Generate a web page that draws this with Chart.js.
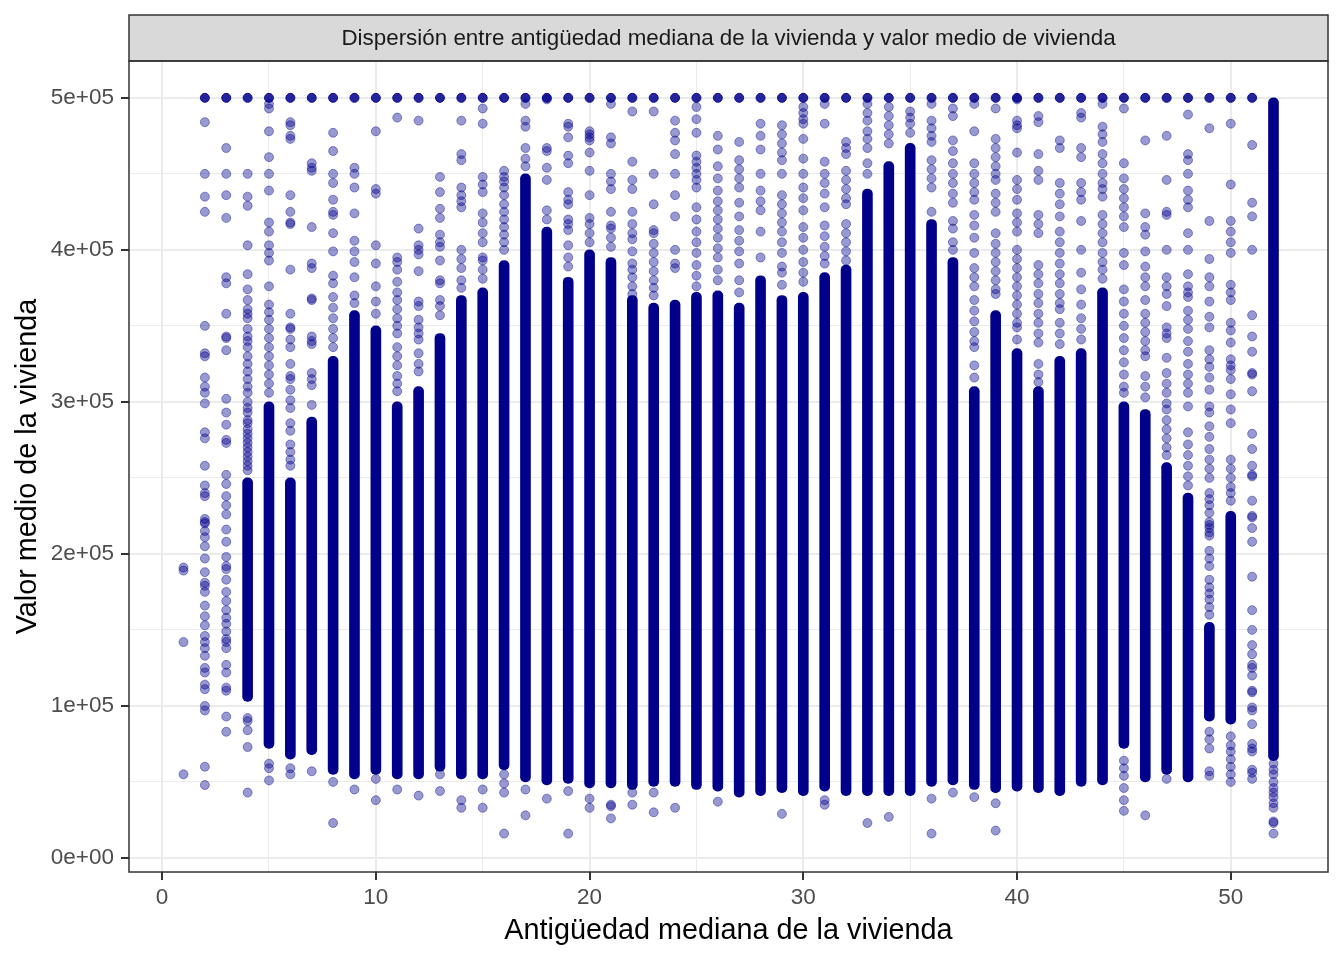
<!DOCTYPE html>
<html>
<head>
<meta charset="utf-8">
<script src="https://cdn.jsdelivr.net/npm/chart.js@4.4.0/dist/chart.umd.min.js"></script>
<style>
  html, body { margin: 0; padding: 0; background: #ffffff; }
  #wrap { width: 1344px; height: 960px; }
</style>
</head>
<body>
<div id="wrap"><canvas id="c" width="1344" height="960"></canvas></div>
<script>
// ---- data (values in thousands of dollars) ----
const ages = [1,2,3,4,5,6,7,8,9,10,11,12,13,14,15,16,17,18,19,20,21,22,23,24,25,26,
              27,28,29,30,31,32,33,34,35,36,37,38,39,40,41,42,43,44,45,46,47,48,49,50,51,52];

// solid (heavily overplotted) part of each column: low / high, thousands
const coreLowK  = [null,null,null,103,72,65,68,55,52,55,52,52,57,52,52,58,50,48,49,46,46,45,47,47,45,44,
                   40,41,43,41,44,41,41,41,41,47,48,45,43,44,43,41,47,48,72,50,55,50,90,88,null,64];
const coreHighK = [null,null,null,250,300,250,290,330,360,350,300,310,345,370,375,393,450,415,382,400,395,370,365,367,372,373,
                   365,383,370,372,385,390,440,458,470,420,395,310,360,335,310,330,335,375,300,295,260,240,155,228,null,500];

// individually visible points of each column, thousands (500 = capped value 500001)
const pointsK = [
  [191,189,142,55],
  [500,484,450,435,425,350,332,330,316,310,306,299,280,276,258,245,240,238,223,221,220,215,211,205,197,188,181,179,175,166,159,153,146,142,138,133,125,122,114,111,100,97,60,48],
  [500,467,450,436,421,382,378,358,343,342,334,302,293,285,275,273,252,246,238,232,226,216,208,198,192,190,183,175,169,163,158,154,149,144,142,138,127,122,112,110,93,83],
  [500,450,435,429,403,384,374,367,361,358,355,348,343,340,336,330,325,320,315,310,306,300,296,293,288,286,282,279,276,273,270,267,264,261,258,255,92,90,84,73,43],
  [500,496,493,478,461,450,439,418,412,403,398,393,376,364,359,354,348,342,336,330,324,318,312,306,62,59,51],
  [500,484,482,475,473,436,425,418,417,387,358,349,348,341,336,325,317,315,308,301,296,286,281,272,267,262,258,59,55],
  [500,457,454,452,415,391,388,368,367,343,340,338,319,315,311,298,57],
  [500,477,465,450,444,433,425,423,411,399,383,378,369,362,355,348,342,336,50,23],
  [500,454,450,441,424,406,399,392,382,370,365,45],
  [500,478,440,437,403,391,376,366,358,52,38],
  [500,487,395,392,387,379,372,367,361,355,350,345,336,330,324,317,312,307,45],
  [500,485,414,403,400,397,386,366,363,354,349,345,341,332,325,320,41],
  [500,448,438,427,421,410,405,402,393,380,378,367,363,357,55,44],
  [500,485,463,459,441,436,432,428,400,394,388,380,375,38,33],
  [500,493,483,448,443,438,424,418,411,405,395,393,387,381,45,33],
  [500,452,448,445,441,436,430,425,420,415,410,405,400,55,49,43,16],
  [500,496,485,481,467,460,455,45,28],
  [500,499,467,465,454,446,426,420,39],
  [500,483,481,474,462,457,438,433,430,420,417,413,403,395,389,44,16],
  [500,478,476,474,472,464,452,436,421,417,411,405,39,33],
  [500,496,474,470,450,445,440,425,416,414,408,402,35,34,26],
  [500,491,458,446,440,425,417,411,407,399,391,387,382,376,371,361,43,35],
  [500,491,450,430,413,411,404,398,392,386,380,375,370,43,30],
  [500,485,477,472,463,450,436,422,400,391,388,33],
  [500,494,486,477,462,458,454,450,446,441,428,420,412,405,398,390,383,376],
  [500,475,466,455,447,439,432,426,420,414,408,401,395,387,380,37],
  [500,471,459,453,447,441,431,422,413,406,399,391,380,372],
  [500,483,475,466,450,439,432,426,412,395],
  [500,482,476,470,464,459,450,436,430,424,418,412,405,398,389,385,377,29],
  [500,494,490,486,483,473,460,450,441,434,426,415,408,400,392,385,379],
  [500,496,483,458,450,444,437,428,416,409,402,396,391,38,35],
  [500,471,467,463,452,446,440,434,430,417,411,405,399,393],
  [500,496,490,485,478,473,467,457,450,23],
  [500,494,488,482,476,470,27],
  [500,491,487,483,477],
  [500,496,485,480,475,471,459,453,447,441,425,39,16],
  [500,493,488,472,465,457,450,444,437,431,419,414,405,400,43],
  [500,496,478,457,450,444,438,433,423,416,408,398,388,382,376,367,360,353,346,340,336,324,316,40],
  [500,493,473,467,461,455,450,446,437,431,425,411,404,398,392,386,380,374,371,36,18],
  [500,499,485,482,480,464,446,440,433,424,418,412,400,394,388,382,376,370,364,358,352,349,341],
  [500,488,484,463,452,446,423,417,411,390,384,378,371,365,358,352,345,339,325,318,313],
  [500,472,467,444,437,430,422,412,405,398,391,384,378,371,365,361,352,345,338],
  [500,490,487,467,461,444,438,433,419,400,385,374,364,355,348,341],
  [500,496,481,476,471,463,457,450,444,440,435,423,417,411,405,398,392,387,381],
  [500,493,457,447,440,434,428,422,415,398,390,374,366,358,350,342,334,326,318,310,306,64,59,54,46,38,31],
  [500,472,424,415,410,399,389,382,376,367,358,352,346,340,334,330,317,310,303,28],
  [500,475,446,425,423,400,382,376,371,363,349,345,342,329,319,312,306,299,295,288,282,276,270,265,52],
  [500,489,463,459,450,439,433,428,411,400,384,376,372,369,360,354,348,340,333,325,318,312,306,297,280,272,265,258,251,245],
  [500,480,419,394,382,376,366,356,349,334,328,323,316,308,297,293,284,277,269,262,256,250,240,236,232,227,221,219,217,214,212,202,197,192,183,178,174,170,165,160,83,78,72,57,54],
  [500,483,443,419,412,405,398,377,372,367,352,347,339,328,324,321,315,305,295,286,262,256,250,244,240,235,80,74,70,65,60,55,50],
  [500,469,431,422,400,357,343,333,319,318,307,279,269,258,252,251,235,225,224,217,208,185,163,150,140,134,127,125,120,110,109,99,97,88,75,72,70,58,56,52],
  [62,58,55,50,46,43,40,36,33,24,23,16]
];
const capK = 500;

// axes
const xTickValues = [0,10,20,30,40,50];
const xGridValues = [0,5,10,15,20,25,30,35,40,45,50];
const yTickValues = [0,100000,200000,300000,400000,500000];
const yTickLabels = ["0e+00","1e+05","2e+05","3e+05","4e+05","5e+05"];
const yGridValues = [0,50000,100000,150000,200000,250000,300000,350000,400000,450000,500000];

const titleText = "Dispersión entre antigüedad mediana de la vivienda y valor medio de vivienda";
const xTitle = "Antigüedad mediana de la vivienda";
const yTitle = "Valor medio de la vivienda";

// ---- build datasets ----
const coreData = [];
ages.forEach((a, i) => {
  if (coreLowK[i] !== null) coreData.push({ x: a, y: [coreLowK[i] * 1000, coreHighK[i] * 1000] });
});
const pointData = [];
const capData = [];
ages.forEach((a, i) => {
  pointsK[i].forEach(v => {
    if (v === capK) capData.push({ x: a, y: v * 1000 });
    else pointData.push({ x: a, y: v * 1000 });
  });
});

const FONT = "'Liberation Sans', Arial, Helvetica, sans-serif";

const panelPlugin = {
  id: 'panel',
  beforeDraw(chart) {
    const { ctx, chartArea } = chart;
    const tb = chart.titleBlock;
    ctx.save();
    ctx.fillStyle = '#ffffff';
    ctx.fillRect(0, 0, chart.width, chart.height);
    ctx.fillStyle = '#D9D9D9';
    ctx.fillRect(chartArea.left, tb.top, chartArea.right - chartArea.left, chartArea.top - tb.top);
    ctx.restore();
  },
  afterDraw(chart) {
    const { ctx, chartArea } = chart;
    const tb = chart.titleBlock;
    ctx.save();
    ctx.strokeStyle = '#333333';
    ctx.lineWidth = 1.5;
    ctx.strokeRect(chartArea.left, tb.top, chartArea.right - chartArea.left, chartArea.top - tb.top);
    ctx.strokeRect(chartArea.left, chartArea.top, chartArea.right - chartArea.left, chartArea.bottom - chartArea.top);
    ctx.restore();
  }
};

new Chart(document.getElementById('c'), {
  type: 'scatter',
  data: {
    datasets: [
      {
        type: 'scatter',
        label: 'tope 500001',
        data: capData,
        order: 0,
        pointRadius: 4.5,
        pointHoverRadius: 4.5,
        pointBorderWidth: 1,
        pointBackgroundColor: 'rgba(0,0,139,0.85)',
        pointBorderColor: 'rgba(0,0,139,0.9)'
      },
      {
        type: 'scatter',
        label: 'puntos',
        data: pointData,
        order: 1,
        pointRadius: 4.5,
        pointHoverRadius: 4.5,
        pointBorderWidth: 1,
        pointBackgroundColor: 'rgba(0,0,139,0.4)',
        pointBorderColor: 'rgba(0,0,139,0.4)'
      },
      {
        type: 'bar',
        label: 'densidad',
        data: coreData,
        order: 2,
        backgroundColor: '#00008B',
        borderWidth: 0,
        borderRadius: 5,
        borderSkipped: false,
        barThickness: 10,
        grouped: false
      }
    ]
  },
  options: {
    responsive: false,
    animation: false,
    devicePixelRatio: 1,
    layout: { padding: { top: 15, right: 16, bottom: 0, left: 0 } },
    plugins: {
      legend: { display: false },
      tooltip: { enabled: false },
      title: {
        display: true,
        text: titleText,
        fullSize: false,
        color: '#1A1A1A',
        font: { family: FONT, size: 22.4, weight: 'normal', lineHeight: 1.2 },
        padding: { top: 10, bottom: 9.1 }
      }
    },
    scales: {
      x: {
        type: 'linear',
        min: -1.55,
        max: 54.55,
        offset: false,
        afterBuildTicks: s => { s.ticks = xGridValues.map(v => ({ value: v })); },
        afterFit: s => { s.height = 88; },
        border: { display: false },
        grid: {
          offset: false,
          color: '#EBEBEB',
          lineWidth: c => (c.tick && c.tick.value % 10 === 0) ? 2 : 1,
          tickColor: c => (c.tick && xTickValues.includes(c.tick.value)) ? '#333333' : 'rgba(0,0,0,0)',
          tickLength: 8,
          tickWidth: 2
        },
        ticks: {
          autoSkip: false,
          maxRotation: 0,
          padding: 4,
          color: '#4D4D4D',
          font: { family: FONT, size: 22.5 },
          callback: v => xTickValues.includes(v) ? String(v) : ''
        },
        title: {
          display: true,
          text: xTitle,
          color: '#000000',
          font: { family: FONT, size: 28.8, lineHeight: 1.2 },
          padding: { top: 0, bottom: 11.5 }
        }
      },
      y: {
        type: 'linear',
        min: -9251,
        max: 524251,
        offset: false,
        afterBuildTicks: s => { s.ticks = yGridValues.map(v => ({ value: v })); },
        afterFit: s => { s.width = 129; },
        border: { display: false },
        grid: {
          offset: false,
          color: '#EBEBEB',
          lineWidth: c => (c.tick && c.tick.value % 100000 === 0) ? 2 : 1,
          tickColor: c => (c.tick && yTickValues.includes(c.tick.value)) ? '#333333' : 'rgba(0,0,0,0)',
          tickLength: 8,
          tickWidth: 2
        },
        ticks: {
          autoSkip: false,
          padding: 7,
          color: '#4D4D4D',
          font: { family: FONT, size: 22.5 },
          callback: v => { const i = yTickValues.indexOf(v); return i >= 0 ? yTickLabels[i] : ''; }
        },
        title: {
          display: true,
          text: yTitle,
          color: '#000000',
          font: { family: FONT, size: 28.8, lineHeight: 1.2 },
          padding: { top: 10.5, bottom: 0 }
        }
      }
    }
  },
  plugins: [panelPlugin]
});
</script>
</body>
</html>
